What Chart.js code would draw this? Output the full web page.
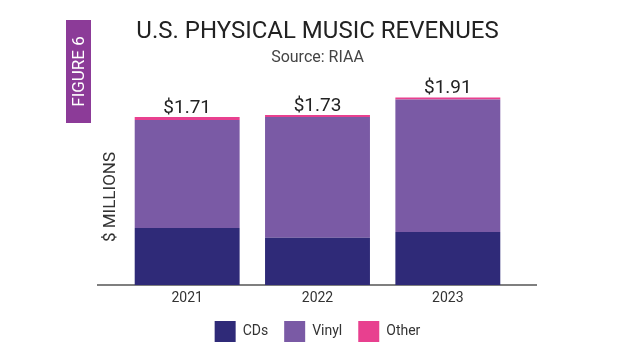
<!DOCTYPE html>
<html>
<head>
<meta charset="utf-8">
<script src="https://cdn.jsdelivr.net/npm/chart.js@4/dist/chart.umd.min.js"></script>
<style>
  html, body { margin: 0; padding: 0; background: #ffffff; }
  #wrap { width: 640px; height: 360px; position: relative; }
</style>
</head>
<body>
<div id="wrap"><canvas id="c" width="640" height="360"></canvas></div>
<script>
// ---- Data ----
const years = ['2021', '2022', '2023'];
const cds   = [0.58, 0.48, 0.54];
const vinyl = [1.10, 1.23, 1.35];
const other = [0.03, 0.02, 0.02];
const totals = [1.71, 1.73, 1.91];
const seriesNames = ['CDs', 'Vinyl', 'Other'];
const titleText = 'U.S. PHYSICAL MUSIC REVENUES';
const subtitleText = 'Source: RIAA';
const yAxisLabel = '$ MILLIONS';
const figureTag = 'FIGURE 6';

const COLORS = { cds: '#2f2a78', vinyl: '#7a5aa5', other: '#e8408f', tag: '#8c3b98' };
const FONT = 'Roboto, "Noto Sans", sans-serif';

const decorPlugin = {
  id: 'decor',
  beforeDatasetsDraw(chart) {
    const ctx = chart.ctx;
    const a = chart.chartArea;
    const y0 = chart.scales.y.getPixelForValue(0);
    ctx.save();
    ctx.strokeStyle = '#555555';
    ctx.lineWidth = 1.5;
    ctx.beginPath();
    ctx.moveTo(a.left - 25, y0);
    ctx.lineTo(a.right + 24, y0);
    ctx.stroke();
    ctx.restore();
  },
  afterDraw(chart) {
    const ctx = chart.ctx;
    ctx.save();
    // Figure tag
    ctx.fillStyle = COLORS.tag;
    ctx.fillRect(66, 20, 25, 103);
    ctx.translate(79, 71.5);
    ctx.rotate(-Math.PI / 2);
    ctx.fillStyle = '#ffffff';
    ctx.font = '17px ' + FONT;
    ctx.textAlign = 'center';
    ctx.textBaseline = 'middle';
    ctx.fillText(figureTag, 0, 1);
    ctx.restore();

    // Y axis label
    ctx.save();
    ctx.translate(111, 197);
    ctx.rotate(-Math.PI / 2);
    ctx.fillStyle = '#333333';
    ctx.font = '17px ' + FONT;
    ctx.textAlign = 'center';
    ctx.textBaseline = 'middle';
    ctx.fillText(yAxisLabel, 0, 0);
    ctx.restore();

    // Total labels above bars
    const topMeta = chart.getDatasetMeta(chart.data.datasets.length - 1);
    ctx.save();
    ctx.fillStyle = '#222222';
    ctx.font = '19px ' + FONT;
    ctx.textAlign = 'center';
    ctx.textBaseline = 'alphabetic';
    topMeta.data.forEach((bar, i) => {
      ctx.fillText('$' + totals[i].toFixed(2), bar.x, bar.y - 4);
    });
    ctx.restore();
  }
};

new Chart(document.getElementById('c'), {
  type: 'bar',
  data: {
    labels: years,
    datasets: [
      { label: seriesNames[0], data: cds, backgroundColor: COLORS.cds },
      { label: seriesNames[1], data: vinyl, backgroundColor: COLORS.vinyl },
      { label: seriesNames[2], data: other, backgroundColor: COLORS.other }
    ]
  },
  options: {
    responsive: false,
    animation: false,
    devicePixelRatio: 1,
    layout: { padding: { left: 122, right: 127, top: 0, bottom: 8 } },
    datasets: { bar: { categoryPercentage: 1, barPercentage: 0.805, borderWidth: 0 } },
    scales: {
      x: {
        stacked: true,
        grid: { display: false, drawTicks: false },
        border: { display: false },
        ticks: { color: '#333333', font: { family: FONT, size: 14 }, padding: 4.6 },
        afterFit: (s) => { s.height = 20; }
      },
      y: {
        stacked: true,
        display: false,
        min: 0,
        max: 2.0
      }
    },
    plugins: {
      title: {
        display: true,
        text: titleText,
        color: '#222222',
        font: { family: FONT, size: 24, weight: 'normal' },
        padding: { top: 17.6, bottom: 0 }
      },
      subtitle: {
        display: true,
        text: subtitleText,
        color: '#444444',
        font: { family: FONT, size: 16, weight: 'normal' },
        padding: { top: 2, bottom: 21 }
      },
      legend: {
        display: true,
        position: 'bottom',
        labels: {
          boxWidth: 21,
          boxHeight: 21,
          padding: 16,
          color: '#333333',
          font: { family: FONT, size: 14 }
        }
      },
      tooltip: { enabled: false }
    }
  },
  plugins: [decorPlugin]
});
</script>
</body>
</html>
